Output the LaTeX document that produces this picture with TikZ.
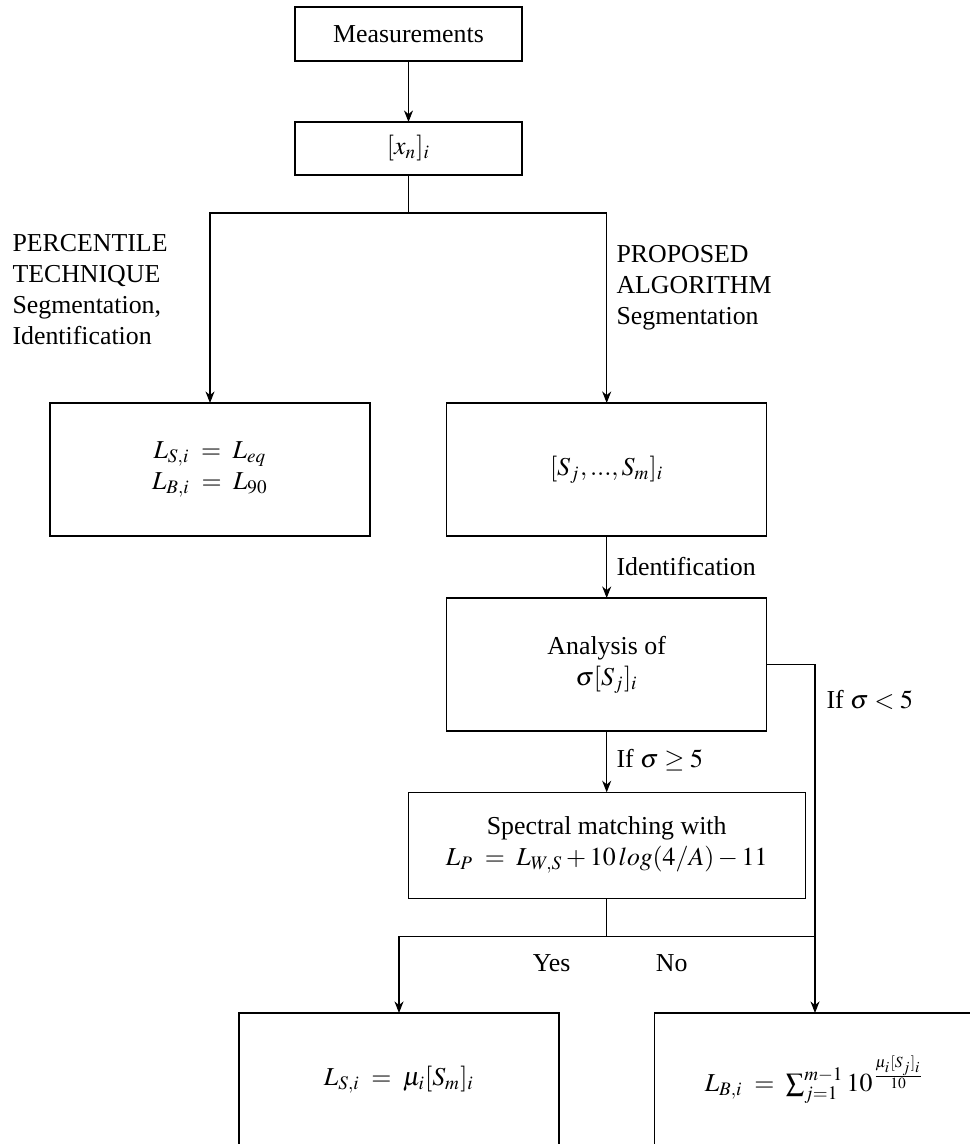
\documentclass[tikz,border=0pt]{standalone}
\usepackage{mathptmx}
\usepackage[no-math]{fontspec}
\setmainfont{Liberation Serif}
\usetikzlibrary{arrows.meta}
\tikzset{
  box/.style={draw, rectangle, inner sep=0pt, outer sep=0pt, align=center,
    minimum width=#1*0.387pt},
  box/.default=320,
  lbl/.style={inner sep=0pt, align=left},
  conn/.style={-{Stealth[length=4.5pt,width=3.5pt]}},
}
\begin{document}
\begin{tikzpicture}[x=0.387pt,y=-0.387pt, font=\fontsize{10pt}{12pt}\selectfont]
\useasboundingbox (0,0) rectangle (969,1144);
% boxes
\node[box=227, minimum height=54*0.387pt] (meas) at (408.5,34) {Measurements};
\node[box=227, minimum height=53*0.387pt] (xn) at (408.5,148.5) {$[x_n]_i$};
\node[box, minimum height=133*0.387pt] (ls) at (210,469.5) {$L_{S,i}\;=\;L_{eq}$\\$L_{B,i}\;=\;L_{90}$};
\node[box, minimum height=133*0.387pt] (sj) at (606.7,469.5) {$[S_j,...,S_m]_i$};
\node[box, minimum height=133*0.387pt] (an) at (606.7,664.5) {Analysis of\\$\sigma[S_j]_i$};
\node[box=397, minimum height=106*0.387pt] (sp) at (606.7,845.3) {Spectral matching with\\$L_P\;=\;L_{W,S}+10\,log(4/A)-11$};
\node[box, minimum height=133*0.387pt] (bl) at (399,1079.5) {$L_{S,i}\;=\;\mu_i[S_m]_i$};
\node[box=321, minimum height=133*0.387pt] (br) at (815,1079.5) {$L_{B,i}\;=\;\sum_{j=1}^{m-1}10^{\frac{\mu_i[S_j]_i}{10}}$};
% junctions
\coordinate (j1) at (408.5,213);
\coordinate (j1l) at (210,213);
\coordinate (j1r) at (606.7,213);
\coordinate (j2) at (606.7,936.7);
\coordinate (j2l) at (399,936.7);
\coordinate (j2r) at (815,936.7);
\coordinate (c1) at (815,664.5);
% connectors
\draw[conn] (meas) -- (xn);
\draw (xn) -- (j1);
\draw[conn] (j1) -- (j1l) -- (ls);
\draw[conn] (j1) -- (j1r) -- (sj);
\draw[conn] (sj) -- (an);
\draw[conn] (an) -- (sp);
\draw (sp) -- (j2);
\draw[conn] (j2) -- (j2l) -- (bl);
\draw (j2) -- (j2r);
\draw[conn] (an.east |- c1) -- (c1) -- (br.north -| c1);
% labels
\node[lbl, anchor=west] (lp) at (12,290) {PERCENTILE\\TECHNIQUE\\Segmentation,\\Identification};
\node[lbl, anchor=west] (lr) at (616,288) {PROPOSED\\ALGORITHM\\Segmentation};
\node[lbl, anchor=west] (lid) at (616,567) {Identification};
\node[lbl, anchor=west] (lge) at (616,760) {If $\sigma\geq5$};
\node[lbl, anchor=west] (llt) at (826,700) {If $\sigma<5$};
\node[lbl] (ly) at (551.7,963) {Yes};
\node[lbl] (ln) at (671.7,963) {No};
\end{tikzpicture}
\end{document}
